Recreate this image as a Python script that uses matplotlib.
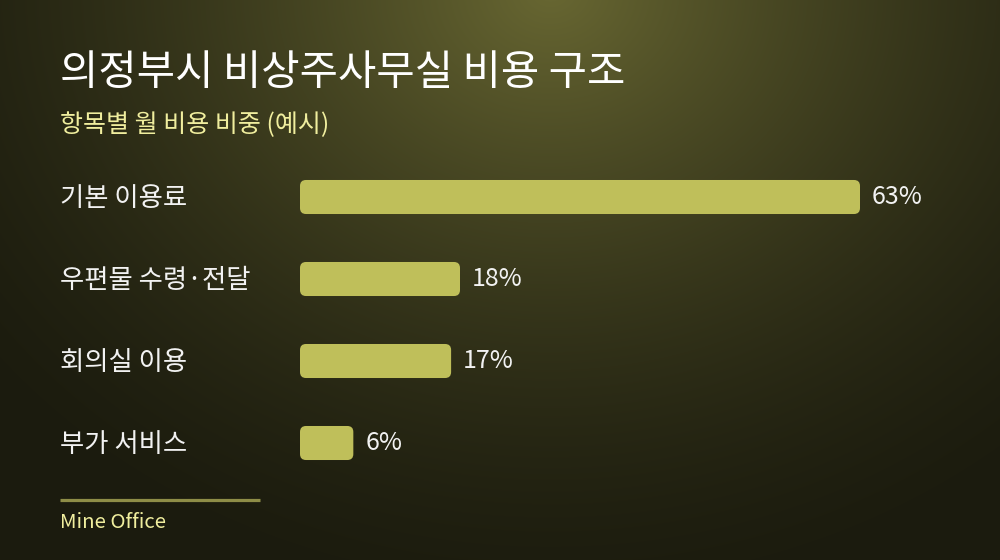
import numpy as np
import matplotlib
matplotlib.use("Agg")
import matplotlib.pyplot as plt
from matplotlib.patches import FancyBboxPatch
from matplotlib.colors import to_rgb
import matplotlib.transforms as mtransforms

plt.rcParams["font.family"] = ["Noto Sans CJK KR", "DejaVu Sans"]

TITLE = "의정부시 비상주사무실 비용 구조"
SUBTITLE = "항목별 월 비용 비중 (예시)"
FOOTER = "Mine Office"
categories = ["기본 이용료", "우편물 수령·전달", "회의실 이용", "부가 서비스"]
shares = [63, 18, 17, 6]

BAR = "#bfbf5a"
TEXT = "#f2f2f2"
ACCENT = "#f0ee9e"

W, H = 1000, 560
fig = plt.figure(figsize=(W / 100, H / 100), dpi=100)

# background: radial glow from top centre
bg = fig.add_axes([0, 0, 1, 1])
yy, xx = np.mgrid[0:H, 0:W]
d = np.hypot((xx - 550) / 1.0, (yy + 10) / 0.85) / 740
t = np.clip(1 - d, 0, 1) ** 1.5
dark = np.array(to_rgb("#1b1b0e"))
light = np.array(to_rgb("#686732"))
img = dark + (light - dark) * t[..., None]
bg.imshow(img, extent=[0, W, H, 0], aspect="auto")
bg.axis("off")

# bar axes
left_px, right_px = 300, 860
top_px, bot_px = 156, 484
ax = fig.add_axes([left_px / W, 1 - bot_px / H, (right_px - left_px) / W, (bot_px - top_px) / H])
ax.set_facecolor("none")
ax.set_xlim(0, max(shares))
ax.set_ylim(len(shares) - 0.5, -0.5)
ax.axis("off")

ypos = np.arange(len(categories))
bars = ax.barh(ypos, shares, height=0.415, color=BAR)

xpx = max(shares) / (right_px - left_px)
ypx = len(shares) / (bot_px - top_px)
r = 6
for b in bars:
    b.set_visible(False)
    rb = FancyBboxPatch((b.get_x(), b.get_y()), b.get_width(), b.get_height(),
                        boxstyle=f"round,pad=0,rounding_size={r * xpx}",
                        mutation_aspect=ypx / xpx, fc=BAR, ec="none")
    ax.add_patch(rb)

for y, v in zip(ypos, shares):
    ax.text(v + 12 * xpx, y, f"{v}%", color=TEXT, fontsize=18, va="center", ha="left")

lab_tr = mtransforms.blended_transform_factory(fig.transFigure, ax.transData)
for y, c in zip(ypos, categories):
    ax.text(60 / W, y + 0.02, c, transform=lab_tr, color=TEXT, fontsize=19, va="center", ha="left")

fig.text(60 / W, 1 - 73 / H, TITLE, color="white", fontsize=30, va="center", ha="left")
fig.text(60 / W, 1 - 125 / H, SUBTITLE, color=ACCENT, fontsize=18, va="center", ha="left")

fig.add_artist(plt.Line2D([60 / W, 260 / W], [1 - 500 / H] * 2, color="#8e8d47",
                          lw=2.3, solid_capstyle="butt"))
fig.text(60 / W, 1 - 523 / H, FOOTER, color=ACCENT, fontsize=14.7, va="center", ha="left")

fig.savefig("out.png", dpi=100)
